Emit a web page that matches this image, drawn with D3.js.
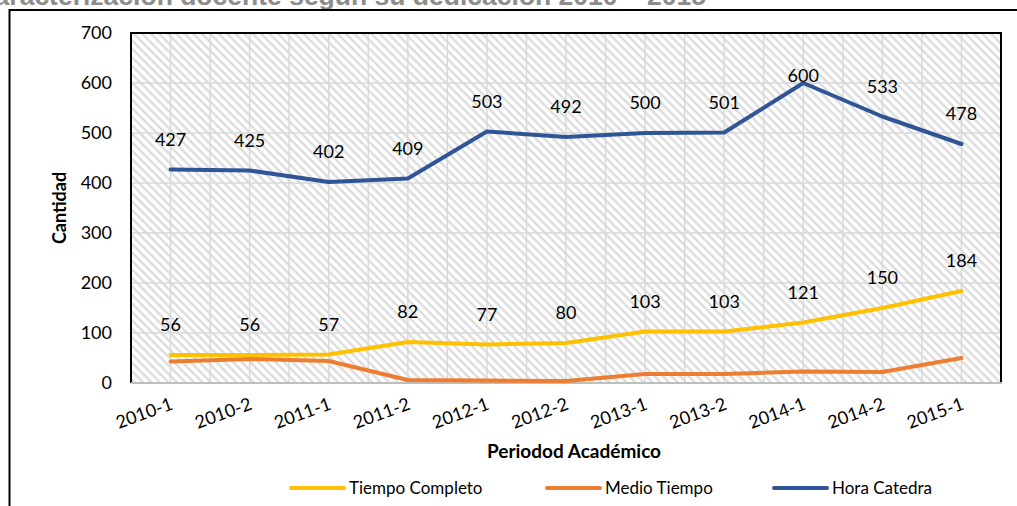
<!DOCTYPE html>
<html>
<head>
<meta charset="utf-8">
<script src="https://cdn.jsdelivr.net/npm/d3@7"></script>
<style>
  html, body { margin: 0; padding: 0; background: #fff; }
  svg { display: block; }
  text { font-family: Lato, "Open Sans", sans-serif; fill: #000; }
</style>
</head>
<body>
<svg id="chart" width="1017" height="506"></svg>
<script>
'use strict';

const periods = ['2010-1', '2010-2', '2011-1', '2011-2', '2012-1', '2012-2',
  '2013-1', '2013-2', '2014-1', '2014-2', '2015-1'];
const tiempoCompleto = [56, 56, 57, 82, 77, 80, 103, 103, 121, 150, 184];
const medioTiempo = [43, 48, 44, 6, 5, 4, 18, 18, 23, 22, 50];
const horaCatedra = [427, 425, 402, 409, 503, 492, 500, 501, 600, 533, 478];
const yTicks = [0, 100, 200, 300, 400, 500, 600, 700];

const series = [
  { name: 'Tiempo Completo', values: tiempoCompleto, color: '#ffc000', labels: true },
  { name: 'Medio Tiempo', values: medioTiempo, color: '#ed7d31', labels: false },
  { name: 'Hora Catedra', values: horaCatedra, color: '#2f5597', labels: true }
];

const svg = d3.select('#chart');
const plot = { left: 131, right: 1001, top: 33, bottom: 383 };

// hatched background, lines running down to the right
const defs = svg.append('defs');
defs.append('pattern')
  .attr('id', 'hatch')
  .attr('patternUnits', 'userSpaceOnUse')
  .attr('width', 6)
  .attr('height', 6)
  .attr('patternTransform', 'rotate(45)')
  .call(p => p.append('rect').attr('width', 6).attr('height', 6).attr('fill', '#fff'))
  .append('rect')
  .attr('width', 6)
  .attr('height', 2.4)
  .attr('fill', '#dcdcdc');

// title (cut off at top like the source)
svg.append('text')
  .attr('x', 706)
  .attr('y', 5)
  .attr('text-anchor', 'end')
  .style('font-family', '"Liberation Sans", Arial, sans-serif')
  .style('font-weight', 'bold')
  .style('font-size', '26.5px')
  .style('fill', '#8c8c8c')
  .text('Caracterización docente según su dedicación 2010 – 2015');

// outer chart border
svg.append('rect')
  .attr('x', 9.5).attr('y', 10)
  .attr('width', 1040).attr('height', 540)
  .attr('fill', 'none')
  .attr('stroke', '#000')
  .attr('stroke-width', 2);

const x = d3.scalePoint()
  .domain(periods)
  .range([plot.left, plot.right])
  .padding(0.5);

const y = d3.scaleLinear()
  .domain([0, 700])
  .range([plot.bottom, plot.top]);

svg.append('rect')
  .attr('x', plot.left).attr('y', plot.top)
  .attr('width', plot.right - plot.left)
  .attr('height', plot.bottom - plot.top)
  .attr('fill', 'url(#hatch)');

// gridlines
const grid = svg.append('g').attr('stroke', '#d9d9d9').attr('stroke-width', 1.5);
grid.selectAll('line.h')
  .data(yTicks.slice(1))
  .join('line')
  .attr('class', 'h')
  .attr('x1', plot.left).attr('x2', plot.right)
  .attr('y1', d => y(d)).attr('y2', d => y(d));

const half = x.step() / 2;
const vx = d3.range(0, periods.length * 2 + 1).map(i => plot.left + i * half);
grid.selectAll('line.v')
  .data(vx)
  .join('line')
  .attr('class', 'v')
  .attr('x1', d => d).attr('x2', d => d)
  .attr('y1', plot.top).attr('y2', plot.bottom);

// plot frame
svg.append('path')
  .attr('d', `M${plot.left} ${plot.bottom} V${plot.top} H${plot.right} V${plot.bottom}`)
  .attr('fill', 'none')
  .attr('stroke', '#000')
  .attr('stroke-width', 2);
svg.append('line')
  .attr('x1', plot.left).attr('x2', plot.right + 1)
  .attr('y1', plot.bottom).attr('y2', plot.bottom)
  .attr('stroke', '#bfbfbf')
  .attr('stroke-width', 2);

// y axis
const yAxis = svg.append('g')
  .attr('transform', `translate(${plot.left},0)`)
  .call(d3.axisLeft(y).tickValues(yTicks).tickSize(0).tickPadding(19));
yAxis.select('.domain').remove();
yAxis.selectAll('text')
  .style('font-family', 'Lato, sans-serif')
  .style('font-size', '18px')
  .attr('fill', '#000');

// x axis
const xAxis = svg.append('g')
  .attr('transform', `translate(0,${plot.bottom})`)
  .call(d3.axisBottom(x).tickSize(0));
xAxis.select('.domain').remove();
xAxis.selectAll('text')
  .style('font-family', 'Lato, sans-serif')
  .style('font-size', '18px')
  .attr('fill', '#000')
  .attr('text-anchor', 'end')
  .attr('dy', 0)
  .attr('transform', 'translate(2,23) rotate(-20)');

// axis titles
svg.append('text')
  .attr('transform', `translate(66,${(plot.top + plot.bottom) / 2}) rotate(-90)`)
  .attr('text-anchor', 'middle')
  .style('font-weight', 'bold')
  .style('font-size', '18px')
  .text('Cantidad');

svg.append('text')
  .attr('x', (plot.left + plot.right) / 2 + 8)
  .attr('y', 458)
  .attr('text-anchor', 'middle')
  .style('font-weight', 'bold')
  .style('font-size', '19px')
  .text('Periodod Académico');

// lines
const line = d3.line()
  .x((d, i) => x(periods[i]))
  .y(d => y(d));

svg.selectAll('path.series')
  .data(series)
  .join('path')
  .attr('class', 'series')
  .attr('d', d => line(d.values))
  .attr('fill', 'none')
  .attr('stroke', d => d.color)
  .attr('stroke-width', 4)
  .attr('stroke-linecap', 'round')
  .attr('stroke-linejoin', 'round');

// data labels
series.filter(s => s.labels).forEach(s => {
  const top = d3.max(s.values);
  svg.append('g')
    .selectAll('text')
    .data(s.values)
    .join('text')
    .attr('x', (d, i) => x(periods[i]))
    .attr('y', d => y(d) - (s.name === 'Hora Catedra' && d === top ? 1 : 24))
    .attr('text-anchor', 'middle')
    .style('font-size', '18px')
    .text(d => d);
});

// legend
const legendItems = [
  { x: 291, s: series[0] },
  { x: 547, s: series[1] },
  { x: 774, s: series[2] }
];
const lg = svg.append('g').selectAll('g')
  .data(legendItems)
  .join('g')
  .attr('transform', d => `translate(${d.x},488)`);
lg.append('line')
  .attr('x1', 0).attr('x2', 53)
  .attr('stroke', d => d.s.color)
  .attr('stroke-width', 4)
  .attr('stroke-linecap', 'round');
lg.append('text')
  .attr('x', 58)
  .attr('y', 6)
  .style('font-size', '17px')
  .text(d => d.s.name);
</script>
</body>
</html>
